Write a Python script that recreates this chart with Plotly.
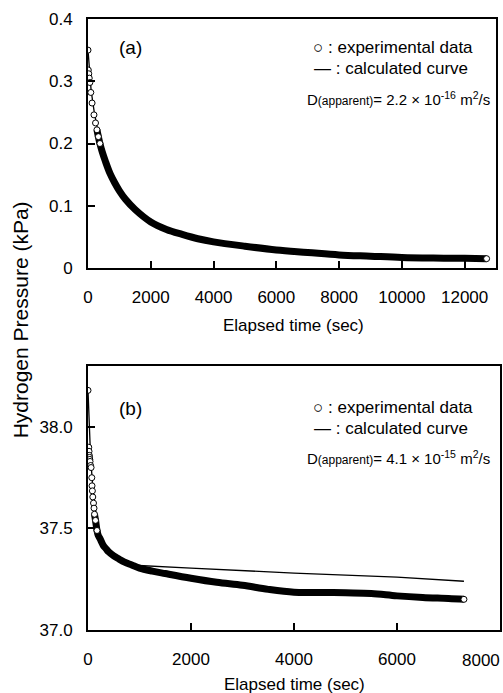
import plotly.graph_objects as go

# ---------------- data ----------------
# Panel (a)
time_a = [0, 10, 25, 40, 60, 90, 130, 190, 240, 285, 330, 380, 450, 550, 700, 850,
          1000, 1200, 1500, 2000, 2500, 3000, 3500, 4000, 5000, 6000, 7000, 8000,
          9000, 10000, 11000, 12000, 12700]
exp_a = [0.350, 0.318, 0.312, 0.305, 0.298, 0.282, 0.265, 0.246, 0.233, 0.222, 0.211,
         0.200, 0.187, 0.172, 0.152, 0.137, 0.124, 0.110, 0.094, 0.074, 0.062, 0.054,
         0.047, 0.042, 0.035, 0.029, 0.025, 0.021, 0.019, 0.017, 0.016, 0.0155, 0.015]
calc_time_a = [0, 100, 200, 400, 700, 1000, 1500, 2000, 3000, 4000, 6000, 8000, 10000, 12700]
calc_a = [0.350, 0.285, 0.250, 0.198, 0.152, 0.124, 0.094, 0.074, 0.054, 0.042, 0.029,
          0.021, 0.017, 0.015]

# Panel (b)
time_b = [0, 15, 20, 25, 30, 35, 40, 50, 60, 74, 78, 85, 93, 107, 117, 126, 146, 175,
          200, 233, 270, 300, 350, 400, 500, 600, 700, 850, 1000, 1250, 1500, 2000,
          2500, 3000, 3500, 4000, 4500, 5000, 5500, 6000, 6500, 7000, 7300]
exp_b = [38.18, 37.90, 37.88, 37.86, 37.85, 37.84, 37.83, 37.81, 37.80, 37.75, 37.71,
         37.685, 37.655, 37.625, 37.60, 37.57, 37.54, 37.49, 37.465, 37.45, 37.43,
         37.415, 37.40, 37.385, 37.365, 37.35, 37.335, 37.32, 37.305, 37.29, 37.278,
         37.255, 37.235, 37.22, 37.20, 37.186, 37.185, 37.183, 37.18, 37.168, 37.16,
         37.155, 37.151]
calc_time_b = [0, 50, 100, 150, 200, 300, 400, 600, 800, 2000, 4000, 6000, 7300]
calc_b = [38.18, 37.85, 37.68, 37.57, 37.49, 37.42, 37.38, 37.34, 37.32, 37.305,
          37.28, 37.26, 37.24]

xticks_a = [0, 2000, 4000, 6000, 8000, 10000, 12000]
xlabels_a = ["0", "2000", "4000", "6000", "8000", "10000", "12000"]
yticks_a = [0, 0.1, 0.2, 0.3, 0.4]
ylabels_a = ["0", "0.1", "0.2", "0.3", "0.4"]
xticks_b = [0, 2000, 4000, 6000, 8000]
xlabels_b = ["0", "2000", "4000", "6000", "8000"]
yticks_b = [37.0, 37.5, 38.0]
ylabels_b = ["37.0", "37.5", "38.0"]

# ---------------- figure ----------------
W, H = 503, 693
ML, MR, MT, MB = 88, 1, 19, 63
PH = H - MT - MB


def py(p):  # pixel y -> paper y
    return (H - MB - p) / PH


def px(p):  # pixel x -> paper x
    return (p - ML) / (W - ML - MR)


FONT = "Arial, Liberation Sans, Helvetica, sans-serif"
fig = go.Figure()

circ = dict(symbol="circle", size=6, color="white", line=dict(color="black", width=1))


def add_panel(t, e, ct, c, xa, ya, n_open):
    fig.add_trace(go.Scatter(x=ct, y=c, mode="lines", xaxis=xa, yaxis=ya,
                             line=dict(color="black", width=1.3), showlegend=False))
    k = max(n_open - 3, 0)
    fig.add_trace(go.Scatter(x=t[k:], y=e[k:], mode="lines", xaxis=xa, yaxis=ya,
                             line=dict(color="black", width=7, shape="spline"),
                             showlegend=False))
    fig.add_trace(go.Scatter(x=t[:n_open] + t[-1:], y=e[:n_open] + e[-1:], mode="markers",
                             xaxis=xa, yaxis=ya, marker=circ, showlegend=False))


add_panel(time_a, exp_a, calc_time_a, calc_a, "x", "y", 12)
add_panel(time_b, exp_b, calc_time_b, calc_b, "x2", "y2", 18)

axis_common = dict(showgrid=False, zeroline=False, showline=True, linecolor="black",
                   linewidth=2, mirror=True, ticks="inside", ticklen=7, tickwidth=1.5,
                   tickcolor="black", tickfont=dict(family=FONT, size=17, color="black"))

# the last label of panel (b) sits flush with the right edge; drawn as an annotation below
xlabels_b_axis = xlabels_b[:-1] + [""]

fig.update_layout(
    width=W, height=H, margin=dict(l=ML, r=MR, t=MT, b=MB),
    paper_bgcolor="white", plot_bgcolor="white",
    xaxis=dict(axis_common, domain=[0, px(498)], range=[0, 13000], tickvals=xticks_a,
               ticktext=xlabels_a, anchor="y", ticklabelstandoff=13),
    yaxis=dict(axis_common, domain=[py(268), 1], range=[0, 0.4], tickvals=yticks_a,
               ticktext=ylabels_a, anchor="x", ticklabelstandoff=10),
    xaxis2=dict(axis_common, domain=[0, 1], range=[0, 8000], tickvals=xticks_b,
                ticktext=xlabels_b_axis, anchor="y2", ticklabelstandoff=13),
    yaxis2=dict(axis_common, domain=[0, py(366)], range=[37.0, 38.3], tickvals=yticks_b,
                ticktext=ylabels_b, anchor="x2", ticklabelstandoff=10),
)

ann = []


def text(x, y, s, size=17, anchor="left", angle=0):
    ann.append(dict(x=px(x), y=py(y), xref="paper", yref="paper", text=s, showarrow=False,
                    xanchor=anchor, yanchor="middle", textangle=angle,
                    font=dict(family=FONT, size=size, color="black")))


# panel labels
text(117, 48, "(a)", size=19)
text(117, 408, "(b)", size=19)

small = "<span style='font-size:12px'>(apparent)</span>"
# legend text (a)
text(477, 48, "\u25cb : experimental data", anchor="right")
text(472, 69, "\u2014 : calculated curve", anchor="right")
text(494, 98, "D" + small + "= 2.2 \u00d7 10<sup>-16</sup> m<sup>2</sup>/s", size=15, anchor="right")
# legend text (b)
text(477, 407, "\u25cb : experimental data", anchor="right")
text(472, 428, "\u2014 : calculated curve", anchor="right")
text(494, 457, "D" + small + "= 4.1 \u00d7 10<sup>-15</sup> m<sup>2</sup>/s", size=15, anchor="right")

# right-most tick label of panel (b)
text(504, 660, xlabels_b[-1], anchor="right")

# axis titles
text(294, 325, "Elapsed time (sec)", anchor="center")
text(295, 684, "Elapsed time (sec)", anchor="center")
text(20, 320, "Hydrogen Pressure (kPa)", size=21, anchor="center", angle=-90)

fig.update_layout(annotations=ann)
fig.write_html("out.html", config={"displayModeBar": False},
               post_script="document.body.style.margin='0';document.body.style.overflow='hidden';")
